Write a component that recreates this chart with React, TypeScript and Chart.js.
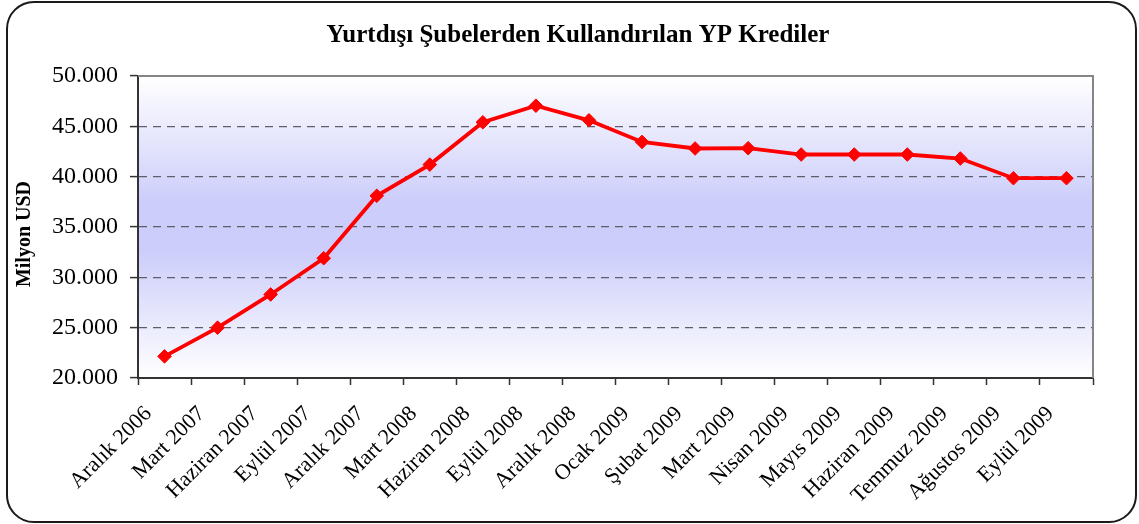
import React, { useEffect, useRef } from "react";
import { Chart, registerables } from "chart.js";

Chart.register(...registerables);

const categories: string[] = [
  "Aralık 2006", "Mart 2007", "Haziran 2007", "Eylül 2007", "Aralık 2007",
  "Mart 2008", "Haziran 2008", "Eylül 2008", "Aralık 2008", "Ocak 2009",
  "Şubat 2009", "Mart 2009", "Nisan 2009", "Mayıs 2009", "Haziran 2009",
  "Temmuz 2009", "Ağustos 2009", "Eylül 2009",
];

const krediValues: number[] = [
  22150, 25000, 28300, 31900, 38100, 41200, 45400, 47050, 45600, 43450,
  42800, 42830, 42200, 42200, 42200, 41800, 39850, 39850,
];

const yTickValues: number[] = [20000, 25000, 30000, 35000, 40000, 45000, 50000];

const chartTitle = "Yurtdışı Şubelerden Kullandırılan YP Krediler";
const yAxisTitle = "Milyon USD";

const W = 1139;
const H = 524;
const PAD_LEFT = 17;
const PLOT_LEFT = 138;
const PLOT_RIGHT = 1093;
const PLOT_BOTTOM = 378;
const SERIF = "'Liberation Serif', 'Times New Roman', serif";

const fmt = (v: number) => String(v).replace(/\B(?=(\d{3})+(?!\d))/g, ".");

const plotDecor = {
  id: "plotDecor",
  beforeDraw(chart: any) {
    const { ctx, chartArea } = chart;
    const { left, right, top, bottom } = chartArea;
    const g = ctx.createLinearGradient(0, top, 0, bottom);
    g.addColorStop(0, "#ffffff");
    g.addColorStop(0.42, "#cccdfa");
    g.addColorStop(0.58, "#cccdfa");
    g.addColorStop(1, "#ffffff");
    ctx.save();
    ctx.fillStyle = g;
    ctx.fillRect(left, top, right - left, bottom - top);
    ctx.restore();
  },
  beforeDatasetsDraw(chart: any) {
    const { ctx, chartArea } = chart;
    const { left, right, top, bottom } = chartArea;
    ctx.save();
    ctx.strokeStyle = "#858585";
    ctx.lineWidth = 2;
    ctx.setLineDash([]);
    ctx.beginPath();
    ctx.moveTo(left, top);
    ctx.lineTo(right, top);
    ctx.lineTo(right, bottom);
    ctx.stroke();
    ctx.restore();
  },
  afterDraw(chart: any) {
    const { ctx } = chart;
    ctx.save();
    ctx.translate(25, 234);
    ctx.rotate(-Math.PI / 2);
    ctx.font = `bold 20px ${SERIF}`;
    ctx.fillStyle = "#000";
    ctx.textAlign = "center";
    ctx.textBaseline = "middle";
    ctx.fillText(yAxisTitle, 0, 0);
    ctx.restore();
  },
};

export default function App() {
  const canvasRef = useRef<HTMLCanvasElement | null>(null);

  useEffect(() => {
    if (!canvasRef.current) return;
    const chart = new Chart(canvasRef.current, {
      type: "line",
      data: {
        labels: categories,
        datasets: [
          {
            label: chartTitle,
            data: krediValues,
            borderColor: "#ff0000",
            backgroundColor: "#ff0000",
            borderWidth: 3.8,
            pointStyle: "rectRot",
            pointRadius: 6.8,
            pointBackgroundColor: "#ff0000",
            pointBorderColor: "#ff0000",
            pointBorderWidth: 1,
            tension: 0,
          },
        ],
      },
      options: {
        responsive: false,
        animation: false,
        events: [],
        layout: { padding: { left: PAD_LEFT, right: 0, top: 0, bottom: 0 } },
        plugins: {
          legend: { display: false },
          tooltip: { enabled: false },
          title: {
            display: true,
            text: chartTitle,
            color: "#000",
            font: { family: SERIF, size: 25, weight: "bold" },
            padding: { top: 21, bottom: 25 },
          },
        },
        scales: {
          x: {
            type: "category",
            offset: true,
            afterFit: (s: any) => {
              s.height = H - PLOT_BOTTOM;
            },
            grid: {
              offset: true,
              drawOnChartArea: false,
              drawTicks: true,
              tickLength: 7,
              tickColor: "#333",
              tickWidth: 1.5,
            },
            border: { color: "#333", width: 2 },
            ticks: {
              autoSkip: false,
              maxRotation: 45,
              minRotation: 45,
              color: "#000",
              font: { family: SERIF, size: 22 },
              padding: 16,
              labelOffset: -16,
            },
          },
          y: {
            min: 20000,
            max: 50000,
            afterFit: (s: any) => {
              s.width = PLOT_LEFT - PAD_LEFT;
            },
            afterBuildTicks: (s: any) => {
              s.ticks = yTickValues.map((v) => ({ value: v }));
            },
            grid: {
              color: (c: any) =>
                c.tick && (c.tick.value === 20000 || c.tick.value === 50000) ? "rgba(0,0,0,0)" : "#5e5e6a",
              lineWidth: 1.2,
              tickLength: 8,
              tickColor: "#333",
              tickWidth: 1.5,
              tickBorderDash: [],
            },
            border: { color: "#333", width: 2, dash: [8, 6] },
            ticks: {
              color: "#000",
              font: { family: SERIF, size: 24 },
              padding: 12,
              callback: (v: any) => fmt(Number(v)),
            },
          },
          yRightSpacer: {
            type: "linear",
            position: "right",
            display: true,
            afterFit: (s: any) => {
              s.width = W - PLOT_RIGHT;
            },
            ticks: { display: false },
            grid: { display: false, drawTicks: false, drawOnChartArea: false },
            border: { display: false },
          },
        },
      },
      plugins: [plotDecor],
    } as any);
    return () => chart.destroy();
  }, []);

  return (
    <div style={{ position: "absolute", left: 0, top: 0, width: W, height: H, background: "#fff" }}>
      <div
        style={{
          position: "absolute",
          left: 6,
          top: 1,
          width: 1137 - 6 - 4,
          height: 523 - 1 - 4,
          border: "2px solid #1a1a1a",
          borderRadius: 28,
        }}
      />
      <canvas
        ref={canvasRef}
        width={W}
        height={H}
        style={{ position: "absolute", left: 0, top: 0, width: W, height: H }}
      />
    </div>
  );
}
